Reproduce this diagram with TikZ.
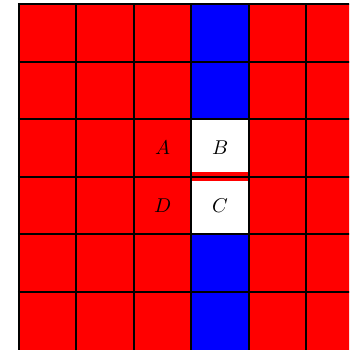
\documentclass[tikz,border=0pt]{standalone}
\usetikzlibrary{calc}
\tikzset{
  gridline/.style={black, line width=1pt},
  redcell/.style={fill=red},
  bluecell/.style={fill=blue},
  whitecell/.style={fill=white},
  lbl/.style={inner sep=0pt, font=\normalsize}
}
\begin{document}
\begin{tikzpicture}[x=28.73pt,y=-28.73pt]
  \useasboundingbox (-0.3307,-0.0748) rectangle (5.744,6.017);
  \clip (-0.3307,-0.0748) rectangle (5.744,6.017);
  % background fills
  \fill[red] (0,0) rectangle (7,7);
  \fill[blue] (3,0) rectangle (4,7);
  \fill[white] (3,2) rectangle (4,4);
  % red separator between B and C
  \draw[red, line width=4.3pt] (3,3) -- (4,3);
  % grid lines
  \foreach \i in {0,...,5} {
    \draw[gridline] (-0.02,\i) -- (7,\i);
    \draw[gridline] (\i,-0.02) -- (\i,7);
  }
  % labels
  \node[lbl] (A) at (2.5,2.5) {$A$};
  \node[lbl] (B) at (3.5,2.5) {$B$};
  \node[lbl] (C) at (3.5,3.5) {$C$};
  \node[lbl] (D) at (2.5,3.5) {$D$};
\end{tikzpicture}
\end{document}
